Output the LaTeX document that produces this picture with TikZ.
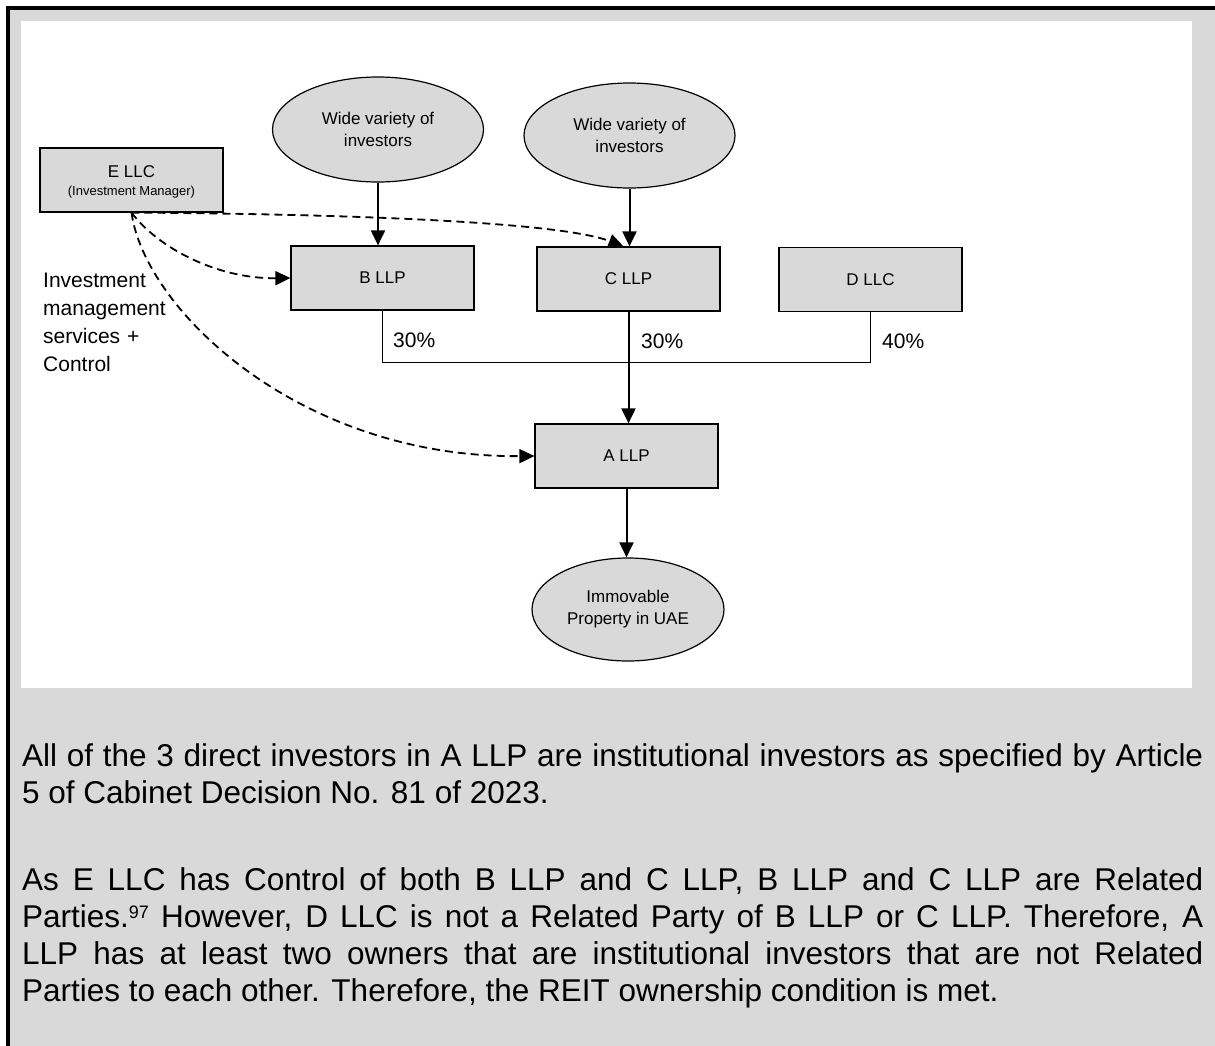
\documentclass[tikz,border=0pt]{standalone}
\usepackage{fontspec}
\setmainfont{Liberation Sans}
\usetikzlibrary{shapes.geometric,arrows.meta}
\definecolor{boxgray}{HTML}{D9D9D9}
\begin{document}
\begin{tikzpicture}[x=1pt,y=-1pt,
  box/.style={draw=black, line width=1.2pt, fill=boxgray, minimum width=183pt,
    minimum height=64pt, inner sep=0pt, font=\fontsize{17}{20}\selectfont},
  oval/.style={ellipse, draw=black, line width=1.2pt, fill=boxgray, inner sep=0pt,
    align=center, font=\fontsize{17}{22}\selectfont},
  own/.style={line width=1.3pt},
  flow/.style={line width=2pt, -{Triangle[length=15pt,width=14pt]}},
  mgmt/.style={line width=1.8pt, dash pattern=on 8pt off 5pt,
    -{Triangle[length=15pt,width=14pt]}},
  pct/.style={anchor=west, inner sep=0pt, font=\fontsize{21}{25}\selectfont},
  body/.style={anchor=base west, inner sep=0pt, text width=1181pt, align=justify,
    font=\fontsize{31.5}{37}\selectfont}
]
\useasboundingbox (0,0) rectangle (1215,1046);
% page frame: grey sheet with a black rule on the left and top
\fill[white] (0,0) rectangle (1215,1046);
\fill[boxgray] (8,8) rectangle (1215,1046);
\draw[line width=3.6pt, line join=miter] (8,1046) -- (8,8) -- (1215,8);
\fill[white] (21,21) rectangle (1192,688);

% structure chart
\node[box] (E) at (131.5,180) {};
\node[inner sep=0pt, font=\fontsize{17}{20}\selectfont] (Et) at (131.5,172) {E LLC};
\node[inner sep=0pt, font=\fontsize{13}{15}\selectfont] (Em) at (131.5,192) {(Investment Manager)};

\node[oval, minimum width=211pt, minimum height=105pt] (inv1) at (378,129.5) {Wide variety of\\investors};
\node[oval, minimum width=211pt, minimum height=105pt] (inv2) at (629.5,135.5) {Wide variety of\\investors};

\node[box] (B) at (382.5,278) {B LLP};
\node[box] (C) at (628.5,279) {C LLP};
\node[box] (D) at (870.5,279.5) {D LLC};
\node[box] (A) at (626.5,456) {A LLP};
\node[oval, minimum width=192pt, minimum height=103pt] (prop) at (628,609.5) {Immovable\\Property in UAE};

\node[anchor=base west, inner sep=0pt, text width=150pt, align=left,
  font=\fontsize{21}{28}\selectfont] (svc) at (43,287.5)
  {Investment\\management\\services +\\Control};

% ownership
\draw[flow] (inv1.south) -- (inv1.south |- B.north);
\draw[flow] (inv2.south) -- (inv2.south |- C.north);
\draw[own] (B.south) -- ++(0,52) -| (D.south);
\draw[flow] (C.south) -- (C.south |- A.north);
\draw[flow] (A.south) -- (A.south |- prop.north);

\node[pct] (pB) at (393,340) {30\%};
\node[pct] (pC) at (641,341) {30\%};
\node[pct] (pD) at (882,341) {40\%};

% management and control
\draw[mgmt] (E.south) .. controls (350,214) and (560,222) .. ([xshift=-5pt]C.north);
\draw[mgmt] (E.south) .. controls (160,250) and (220,279) .. (B.west);
\draw[mgmt] (E.south) .. controls (145,310) and (300,458) .. (A.west);

% explanatory text
\node[body] (t1) at (22,766) {All of the 3 direct investors in A LLP are institutional investors as specified by Article\linebreak
5 of Cabinet Decision No. 81 of 2023.};
\node[body] (t2) at (22,890) {As E LLC has Control of both B LLP and C LLP, B LLP and C LLP are Related\linebreak
Parties.\raisebox{9pt}{\fontsize{18}{18}\selectfont 97} However, D LLC is not a Related Party of B LLP or C LLP. Therefore, A\linebreak
LLP has at least two owners that are institutional investors that are not Related\linebreak
Parties to each other. Therefore, the REIT ownership condition is met.};
\end{tikzpicture}
\end{document}
